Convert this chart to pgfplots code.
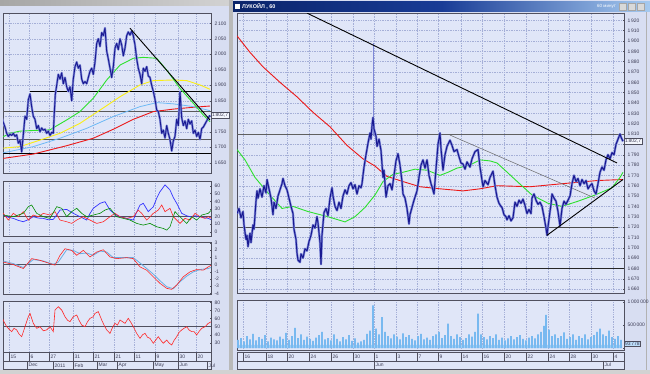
\documentclass[border=0pt]{standalone}
\usepackage{pgfplots}
\pgfplotsset{compat=1.18}
\usepackage{fontspec}
\setmainfont{Liberation Sans}
\definecolor{pagec}{RGB}{216,222,242}
\definecolor{bgc}{RGB}{224,230,248}
\definecolor{gridc}{RGB}{165,175,215}
\definecolor{framec}{RGB}{80,80,95}
\definecolor{labc}{RGB}{60,60,85}
\definecolor{pricec}{RGB}{25,25,145}
\definecolor{haloc}{RGB}{125,135,215}
\definecolor{mared}{RGB}{235,25,25}
\definecolor{magreen}{RGB}{45,225,45}
\definecolor{mayellow}{RGB}{250,238,20}
\definecolor{mablue}{RGB}{110,185,245}
\definecolor{volc}{RGB}{120,185,240}
\definecolor{navyt}{RGB}{10,36,106}
\definecolor{midt}{RGB}{25,60,150}
\definecolor{lightt}{RGB}{166,202,240}
\pgfplotsset{
 panel/.style={
  scale only axis, anchor=north west,
  clip mode=individual,
  axis background/.style={fill=bgc},
  axis line style={draw=framec, line width=0.5bp},
  every tick/.style={draw=framec, line width=0.4bp},
  major tick length=1.5bp,
  ytick pos=right, yticklabel pos=right,
  xmajorgrids, ymajorgrids,
  major grid style={dash pattern=on 0.5bp off 1.2bp, draw=gridc, line width=0.4bp},
  x tick style={draw=none},
  xticklabels={},
  tick label style={font=\fontsize{5}{6}\selectfont, text=labc},
  yticklabel style={/pgf/number format/.cd, fixed, precision=0, 1000 sep={\,}},
  /pgf/number format/assume math mode=true,
 },
 lx/.style={xmin=3, xmax=211, xtick={9,29,49,73,93,114,134,155,178,196}},
 rx/.style={xmin=237, xmax=624, xtick={243,266,287,309,331,353,374,396,417,438,461,482,504,526,548,569,591,613}},
}
\begin{document}
\begin{tikzpicture}
\useasboundingbox (0,0) rectangle (650bp,-374bp);
\fill[pagec] (0,0) rectangle (650bp,-374bp);
% window chrome
\shade[left color=gray!70, right color=gray!35] (0,0) rectangle (229bp,-5bp);
\fill[gray!55] (229bp,0) rectangle (233bp,-374bp);
\shade[left color=navyt, right color=lightt, middle color=midt] (233bp,-1.5bp) rectangle (650bp,-11.5bp);
\fill[white] (235bp,-3.5bp) rectangle (240bp,-9bp);
\node[anchor=west, text=white, font=\fontsize{5.5}{6}\selectfont\bfseries, inner sep=0] at (242bp,-6.5bp) {ЛУКОЙЛ , 60};
\node[anchor=east, text=white, font=\fontsize{4.5}{5}\selectfont, inner sep=0] at (616bp,-6.5bp) {60 минут};
\foreach \bx in {619,628,637} {\fill[gray!30] (\bx bp,-3bp) rectangle ++(7.5bp,-7bp); \draw[gray!70, line width=0.3bp] (\bx bp,-3bp) rectangle ++(7.5bp,-7bp);}
\draw[gray!60, line width=0.8bp] (646bp,-12bp) -- (646bp,-374bp);
\fill[gray!35] (0,-370bp) rectangle (650bp,-374bp);

% ===== LEFT PRICE =====
\begin{axis}[panel, lx, at={(3bp,-13bp)}, width=208bp, height=160bp,
  ymin=1616.8, ymax=2133.2, ytick={1650,1700,1750,1800,1850,1900,1950,2000,2050,2100},
  yticklabels={1\,650,1\,700,1\,750,,1\,850,1\,900,1\,950,2\,000,2\,050,2\,100}]
\addplot[black, line width=0.7bp] coordinates {(30,1879)(211,1879)};
\addplot[gray!70!black, line width=0.5bp] coordinates {(3,1817)(211,1817)};
\addplot[gray!70!black, line width=0.5bp] coordinates {(3,1726)(211,1726)};
\addplot[black, line width=0.8bp] coordinates {(3,1680)(211,1680)};
\addplot[mared, line width=0.9bp] coordinates {(3.3,1664)(33.3,1678)(66.7,1705)(93.3,1729)(113.3,1758)(133.3,1790)(153.3,1815)(173.3,1823)(193.3,1829)(210,1833)};
\addplot[mablue, line width=0.8bp] coordinates {(3.3,1682)(33.3,1702)(60,1729)(86.7,1761)(113.3,1799)(140,1831)(156.7,1844)(173.3,1840)(193.3,1831)(210,1818)};
\addplot[mayellow, line width=0.9bp] coordinates {(3.3,1697)(20,1702)(40,1723)(60,1745)(80,1777)(100,1820)(120,1863)(140,1901)(153.3,1915)(173.3,1917)(186.7,1915)(200,1901)(210,1887)};
\addplot[magreen, line width=0.9bp] coordinates {(3.3,1734)(10,1745)(20,1752)(33.3,1754)(50,1756)(55,1766)(66.7,1788)(80,1815)(93.3,1858)(106.7,1917)(120,1965)(133.3,1987)(143.3,1990)(156.7,1987)(166.7,1949)(180,1890)(193.3,1842)(203.3,1804)(210,1782)};
\addplot[haloc, line width=2.2bp, line join=round] coordinates {(1.7,1797)(3.3,1780)(5,1765)(6.7,1745)(8.3,1735)(10,1742)(11.7,1738)(13.3,1745)(15,1735)(16.7,1740)(18.3,1713)(20,1722)(21.7,1685)(23.3,1740)(25,1800)(26.7,1790)(28.3,1853)(30,1872)(31.7,1830)(33.3,1800)(35,1790)(36.7,1760)(38.3,1770)(40,1750)(41.7,1762)(43.3,1755)(45,1758)(46.7,1745)(48.3,1752)(50,1738)(51.7,1748)(53.3,1745)(54.3,1810)(55.3,1870)(56.7,1900)(58.3,1935)(60,1920)(61.7,1940)(63.3,1905)(65,1925)(66.7,1895)(68.3,1880)(70,1895)(71.7,1850)(73.3,1920)(75,1960)(76.7,1975)(78.3,1955)(80,1965)(81.7,1920)(83.3,1905)(85,1912)(86.7,1905)(88.3,1925)(90,1945)(91.7,1955)(93.3,1935)(95,1975)(96.7,2035)(98.3,2050)(100,2025)(101.7,2070)(103.3,2060)(105,2085)(106.7,2010)(108.3,1985)(110,1955)(111.7,1925)(113.3,1960)(115,2020)(116.7,2035)(118.3,2015)(120,2050)(121.7,2030)(123.3,1995)(125,2020)(126.7,2060)(128.3,2072)(130,2062)(131.7,2075)(133.3,2060)(135,2030)(136.7,1985)(138.3,1955)(140,1935)(141.7,1905)(143.3,1955)(145,1945)(146.7,1960)(148.3,1930)(150,1925)(151.7,1900)(153.3,1880)(155,1855)(156.7,1820)(158.3,1815)(160,1790)(161.7,1745)(163.3,1755)(165,1730)(166.7,1770)(168.3,1745)(170,1725)(171.7,1688)(173.3,1720)(175,1735)(176.7,1790)(178.3,1770)(180,1880)(181.7,1795)(183.3,1770)(185,1785)(186.7,1760)(188.3,1790)(190,1775)(191.7,1785)(193.3,1745)(195,1755)(196.7,1735)(198.3,1748)(200,1725)(201.7,1760)(203.3,1765)(205,1775)(206.7,1785)(208.3,1795)(210,1803)};
\addplot[pricec, line width=0.9bp, line join=round] coordinates {(1.7,1797)(3.3,1780)(5,1765)(6.7,1745)(8.3,1735)(10,1742)(11.7,1738)(13.3,1745)(15,1735)(16.7,1740)(18.3,1713)(20,1722)(21.7,1685)(23.3,1740)(25,1800)(26.7,1790)(28.3,1853)(30,1872)(31.7,1830)(33.3,1800)(35,1790)(36.7,1760)(38.3,1770)(40,1750)(41.7,1762)(43.3,1755)(45,1758)(46.7,1745)(48.3,1752)(50,1738)(51.7,1748)(53.3,1745)(54.3,1810)(55.3,1870)(56.7,1900)(58.3,1935)(60,1920)(61.7,1940)(63.3,1905)(65,1925)(66.7,1895)(68.3,1880)(70,1895)(71.7,1850)(73.3,1920)(75,1960)(76.7,1975)(78.3,1955)(80,1965)(81.7,1920)(83.3,1905)(85,1912)(86.7,1905)(88.3,1925)(90,1945)(91.7,1955)(93.3,1935)(95,1975)(96.7,2035)(98.3,2050)(100,2025)(101.7,2070)(103.3,2060)(105,2085)(106.7,2010)(108.3,1985)(110,1955)(111.7,1925)(113.3,1960)(115,2020)(116.7,2035)(118.3,2015)(120,2050)(121.7,2030)(123.3,1995)(125,2020)(126.7,2060)(128.3,2072)(130,2062)(131.7,2075)(133.3,2060)(135,2030)(136.7,1985)(138.3,1955)(140,1935)(141.7,1905)(143.3,1955)(145,1945)(146.7,1960)(148.3,1930)(150,1925)(151.7,1900)(153.3,1880)(155,1855)(156.7,1820)(158.3,1815)(160,1790)(161.7,1745)(163.3,1755)(165,1730)(166.7,1770)(168.3,1745)(170,1725)(171.7,1688)(173.3,1720)(175,1735)(176.7,1790)(178.3,1770)(180,1880)(181.7,1795)(183.3,1770)(185,1785)(186.7,1760)(188.3,1790)(190,1775)(191.7,1785)(193.3,1745)(195,1755)(196.7,1735)(198.3,1748)(200,1725)(201.7,1760)(203.3,1765)(205,1775)(206.7,1785)(208.3,1795)(210,1803)};
\addplot[black, line width=0.9bp] coordinates {(130,2084)(210,1788)};
\node[anchor=west, draw=framec, fill=bgc!40!white, line width=0.4bp, inner sep=0.8bp, font=\fontsize{5}{6}\selectfont, text=labc] at (axis cs:211,1803) {1\,802,7};
\end{axis}

% ===== LEFT DMI / ADX =====
\begin{axis}[panel, lx, at={(3bp,-181bp)}, width=208bp, height=55bp,
  ymin=-5.5, ymax=66.6, ytick={0,10,20,30,40,50,60}, ymajorgrids=false]
\addplot[framec, line width=0.6bp] coordinates {(3,20)(211,20)};
\addplot[blue!80!white, line width=0.7bp] coordinates {(3.3,22)(8.3,19)(13.3,17.6)(18.3,15)(23.3,13.2)(28.3,16)(33.3,19.8)(38.3,18)(43.3,17.6)(48.3,15.8)(53.3,16.3)(56.7,22)(60,28.5)(66.7,29.4)(73.3,24.2)(80,19.8)(86.7,15.4)(90,24)(93.3,30.8)(100,37.3)(105,39.5)(110,28.5)(115,23)(120,19.8)(126.7,17.6)(133.3,15.4)(136.7,26)(140,35.1)(143.3,37.3)(148.3,26.4)(153.3,32.9)(156.7,44)(160,52.6)(165,61.4)(170,54.8)(173.3,45)(176.7,37.3)(181.7,24.2)(186.7,21)(190,19.8)(195,21)(200,19.8)(204,18.5)(208.3,17.6)(211,16)};
\addplot[red!85!white, line width=0.6bp] coordinates {(3.3,24.2)(8.3,15.4)(13.3,24.2)(18.3,19.8)(23.3,26.4)(28.3,15.4)(33.3,22)(38.3,19.8)(43.3,24.2)(50,22)(55,26.4)(60,15.4)(66.7,13.2)(71.7,11)(76.7,15.4)(83.3,19.8)(90,15.4)(96.7,11)(103.3,13.2)(110,19.8)(115,24.2)(120,19.8)(126.7,17.6)(133.3,19.8)(138.3,28.5)(141.7,24.2)(146.7,15.4)(153.3,24.2)(158.3,28.5)(161.7,35.1)(165,26.4)(170,30.8)(173.3,19.8)(180,11)(185,17.6)(190,15.4)(195,24.2)(200,19.8)(205,17.6)(208.3,19.8)(211,18)};
\addplot[green!55!black, line width=0.6bp] coordinates {(3.3,22)(13.3,19.8)(23.3,24.2)(28.3,32.9)(31.7,35.1)(36.7,24.2)(43.3,19.8)(50,17.6)(56.7,32.9)(61.7,30.8)(66.7,19.8)(71.7,26.4)(76.7,30.8)(81.7,24.2)(86.7,19.8)(93.3,22)(100,24.2)(105,28.5)(110,30.8)(116.7,19.8)(123.3,17.6)(130,15.4)(136.7,11)(143.3,8.8)(150,11)(156.7,6.6)(163.3,4.4)(166.7,2.2)(170,6.6)(175,26.4)(180,19.8)(186.7,11)(191.7,19.8)(196.7,15.4)(201.7,22)(208.3,24.2)(211,28)};
\end{axis}

% ===== LEFT MACD =====
\begin{axis}[panel, lx, at={(3bp,-242.7bp)}, width=208bp, height=51.3bp,
  ymin=-4.1, ymax=3.05, ytick={-4,-3,-2,-1,0,1,2,3}, ymajorgrids=false]
\addplot[framec, line width=0.6bp] coordinates {(3,0)(211,0)};
\addplot[cyan!70!blue!60!white, line width=0.8bp] coordinates {(3.3,0.5)(13.3,0.14)(23.3,-0.41)(33.3,0.7)(43.3,0.5)(53.3,0.05)(58.3,0.36)(66.7,2.07)(73.3,1.98)(80,1.52)(86.7,1.61)(93.3,1.29)(100,1.89)(106.7,1.75)(113.3,0.97)(123.3,0.97)(133.3,0.97)(140,0.23)(146.7,-0.55)(153.3,-1.33)(160,-2.25)(166.7,-3.08)(173.3,-3.36)(180,-2.39)(186.7,-1.61)(193.3,-1.01)(200,-0.69)(208.3,-0.55)(211,-0.4)};
\addplot[red!85!white, line width=0.6bp] coordinates {(3.3,0.36)(13.3,0)(23.3,-0.55)(31.7,0.83)(40,0.6)(50,0.14)(55,-0.08)(60,1.29)(65,2.21)(71.7,1.98)(76.7,1.29)(83.3,1.98)(90,1.06)(96.7,1.75)(103.3,2.07)(110,1.06)(116.7,0.83)(126.7,0.97)(133.3,0.83)(140,-0.32)(146.7,-0.78)(153.3,-1.70)(160,-2.62)(166.7,-3.31)(171.7,-3.45)(176.7,-2.85)(183.3,-1.70)(190,-1.01)(196.7,-0.69)(203.3,-0.78)(208.3,-0.32)(211,-0.1)};
\end{axis}

% ===== LEFT RSI =====
\begin{axis}[panel, lx, at={(3bp,-301bp)}, width=208bp, height=51.7bp,
  ymin=18, ymax=81.6, ytick={30,40,50,60,70,80}, ymajorgrids=false]
\addplot[framec, line width=0.6bp] coordinates {(3,50)(211,50)};
\addplot[red!85!white, line width=0.6bp] coordinates {(1.7,62.3)(4,56)(6.7,50)(9,47)(11.7,43.9)(14,48)(16.7,46)(19,41)(21.7,37.7)(25,50)(28.3,62.3)(30,66.4)(33.3,54.1)(36.7,48)(40,50)(43.3,45)(46.7,46)(50,50)(53.3,43.9)(55,70.5)(58.3,74.6)(61.7,70.5)(65,62.3)(67.5,58)(70,56.2)(73.3,62.3)(76.7,64.4)(79,58)(81.7,52)(85,50)(87.5,56)(90,60.3)(93,62)(95,66.4)(98.3,68.5)(101.7,58.2)(104,52)(106.7,46)(110,41.8)(112.5,49)(115,54.1)(117.5,52)(120,58.2)(125,54.1)(128.3,60.3)(131,55)(133.3,50)(136.7,41.8)(140,35.7)(142.5,40)(145,41.8)(147.5,37)(150,35.7)(153.3,29.6)(156,34)(158.3,37.7)(161,33)(163.3,29.6)(166.7,33.6)(169,30)(171.7,27.5)(174,33)(176.7,37.7)(179,43)(181.7,46)(184,48)(186.7,50)(189,46)(191.7,43.9)(194,44)(196.7,39.8)(199,44)(201.7,48)(205,50)(208.3,54.1)(211,56)};
\end{axis}

% ===== LEFT DATE STRIP =====
\fill[bgc] (3bp,-352.7bp) rectangle (211bp,-369.3bp);
\draw[framec, line width=0.5bp] (3bp,-352.7bp) rectangle (211bp,-369.3bp);
\draw[framec, line width=0.4bp] (3bp,-361bp) -- (211bp,-361bp);
\foreach \s/\t in {9/15,29/6,49/27,73/31,93/21,114/21,134/11,155/9,178/30,196/20} {
  \draw[framec, line width=0.4bp] (\s bp,-352.7bp) -- (\s bp,-361bp);
  \node[anchor=west, inner sep=0, font=\fontsize{5}{6}\selectfont, text=labc] at ({(\s+1.5)*1bp},-357bp) {\t};
}
\foreach \s/\t in {27/Dec,53/2011,73/Feb,97/Mar,117/Apr,153/May,178/Jun,207/Jul} {
  \draw[framec, line width=0.4bp] (\s bp,-361bp) -- (\s bp,-369.3bp);
  \node[anchor=west, inner sep=0, font=\fontsize{5}{6}\selectfont, text=labc] at ({(\s+1.5)*1bp},-365.3bp) {\t};
}

% ===== RIGHT PRICE =====
\begin{axis}[panel, rx, at={(237bp,-13bp)}, width=387bp, height=280.3bp,
  ymin=1655.9, ymax=1927.1, ytick={1660,1670,1680,1690,1700,1710,1720,1730,1740,1750,1760,1770,1780,1790,1800,1810,1820,1830,1840,1850,1860,1870,1880,1890,1900,1910,1920},
  yticklabels={1\,660,1\,670,1\,680,1\,690,1\,700,1\,710,1\,720,1\,730,1\,740,1\,750,1\,760,1\,770,1\,780,1\,790,,1\,810,1\,820,1\,830,1\,840,1\,850,1\,860,1\,870,1\,880,1\,890,1\,900,1\,910,1\,920}]
\addplot[gray!75!black, line width=0.6bp] coordinates {(237,1810)(624,1810)};
\addplot[gray!60!black, line width=0.6bp] coordinates {(237,1720)(618,1720)};
\addplot[black!85, line width=1bp] coordinates {(237,1680)(624,1680)};
\addplot[mared, line width=0.9bp] coordinates {(237,1905)(250,1889)(263,1875)(280,1860)(297,1846)(313,1831)(330,1817)(347,1799)(363,1786)(375,1779)(387,1769)(403,1764)(420,1759)(440,1757)(463,1755)(480,1757)(497,1760)(530,1759)(563,1762)(597,1765)(623,1766)};
\addplot[magreen, line width=0.9bp] coordinates {(237,1795)(245,1785)(255,1768)(268,1753)(282,1738)(293,1740)(308,1735)(328,1730)(345,1725)(355,1730)(365,1739)(375,1751)(383,1764)(393,1771)(403,1773)(415,1776)(427,1775)(440,1770)(448,1773)(457,1777)(470,1780)(480,1785)(490,1784)(497,1782)(505,1775)(515,1766)(532,1751)(548,1743)(562,1740)(578,1745)(595,1751)(612,1758)(620,1768)(623,1773)};
\addplot[gray!80!black, line width=0.5bp] coordinates {(450,1809)(595,1748)};
\addplot[haloc, line width=0.6bp] coordinates {(373,1808)(373,1898)};
\addplot[haloc, line width=2.3bp, line join=round] coordinates {(237,1733)(239,1738)(241,1729)(243,1735)(244,1722)(246,1708)(247,1712)(248,1701)(250,1714)(251,1705)(253,1722)(254,1718)(256,1745)(257,1755)(258,1748)(260,1757)(262,1749)(264,1760)(266,1753)(267,1766)(269,1757)(271,1748)(273,1732)(274,1744)(276,1738)(278,1750)(280,1756)(282,1762)(283,1767)(285,1760)(287,1756)(289,1748)(291,1740)(293,1733)(294,1718)(296,1708)(297,1695)(298,1688)(300,1686)(301,1694)(303,1690)(305,1699)(307,1697)(309,1706)(311,1712)(313,1722)(315,1719)(317,1730)(318,1724)(320,1705)(321,1684)(322,1712)(324,1734)(326,1738)(328,1731)(330,1748)(332,1758)(333,1750)(335,1740)(337,1736)(339,1744)(341,1738)(343,1750)(345,1756)(347,1752)(349,1760)(351,1763)(353,1757)(355,1761)(357,1752)(359,1760)(361,1758)(362,1762)(364,1778)(366,1790)(368,1801)(370,1811)(371,1805)(372,1818)(373,1826)(374,1815)(376,1808)(377,1798)(379,1805)(381,1794)(383,1768)(384,1775)(386,1749)(388,1760)(390,1762)(392,1756)(394,1770)(396,1784)(398,1791)(400,1780)(402,1764)(403,1752)(405,1748)(407,1738)(409,1723)(410,1732)(412,1739)(414,1746)(417,1755)(419,1768)(421,1780)(423,1785)(425,1777)(427,1785)(429,1770)(431,1762)(432,1759)(434,1752)(436,1776)(438,1800)(440,1811)(441,1796)(443,1775)(445,1790)(447,1798)(450,1804)(452,1799)(454,1793)(457,1795)(459,1788)(461,1782)(463,1781)(465,1776)(467,1783)(470,1778)(472,1786)(475,1793)(478,1795)(480,1778)(483,1759)(485,1765)(488,1761)(490,1768)(493,1774)(495,1760)(497,1749)(499,1743)(501,1740)(502,1739)(504,1732)(506,1730)(507,1727)(509,1731)(511,1726)(513,1729)(515,1744)(517,1740)(519,1746)(521,1743)(523,1747)(525,1741)(527,1733)(529,1737)(531,1733)(532,1748)(534,1752)(536,1746)(538,1742)(540,1744)(542,1740)(544,1730)(546,1719)(547,1712)(549,1728)(551,1742)(552,1752)(554,1748)(556,1745)(558,1735)(560,1721)(562,1738)(564,1745)(566,1742)(568,1746)(570,1750)(572,1762)(574,1770)(576,1764)(578,1767)(580,1760)(582,1766)(584,1762)(586,1765)(588,1757)(590,1760)(592,1762)(594,1755)(596,1752)(598,1762)(600,1773)(602,1778)(604,1775)(606,1785)(608,1790)(610,1786)(612,1792)(614,1790)(616,1800)(618,1805)(620,1810)(621,1807)(623,1803)};
\addplot[pricec, line width=1bp, line join=round] coordinates {(237,1733)(239,1738)(241,1729)(243,1735)(244,1722)(246,1708)(247,1712)(248,1701)(250,1714)(251,1705)(253,1722)(254,1718)(256,1745)(257,1755)(258,1748)(260,1757)(262,1749)(264,1760)(266,1753)(267,1766)(269,1757)(271,1748)(273,1732)(274,1744)(276,1738)(278,1750)(280,1756)(282,1762)(283,1767)(285,1760)(287,1756)(289,1748)(291,1740)(293,1733)(294,1718)(296,1708)(297,1695)(298,1688)(300,1686)(301,1694)(303,1690)(305,1699)(307,1697)(309,1706)(311,1712)(313,1722)(315,1719)(317,1730)(318,1724)(320,1705)(321,1684)(322,1712)(324,1734)(326,1738)(328,1731)(330,1748)(332,1758)(333,1750)(335,1740)(337,1736)(339,1744)(341,1738)(343,1750)(345,1756)(347,1752)(349,1760)(351,1763)(353,1757)(355,1761)(357,1752)(359,1760)(361,1758)(362,1762)(364,1778)(366,1790)(368,1801)(370,1811)(371,1805)(372,1818)(373,1826)(374,1815)(376,1808)(377,1798)(379,1805)(381,1794)(383,1768)(384,1775)(386,1749)(388,1760)(390,1762)(392,1756)(394,1770)(396,1784)(398,1791)(400,1780)(402,1764)(403,1752)(405,1748)(407,1738)(409,1723)(410,1732)(412,1739)(414,1746)(417,1755)(419,1768)(421,1780)(423,1785)(425,1777)(427,1785)(429,1770)(431,1762)(432,1759)(434,1752)(436,1776)(438,1800)(440,1811)(441,1796)(443,1775)(445,1790)(447,1798)(450,1804)(452,1799)(454,1793)(457,1795)(459,1788)(461,1782)(463,1781)(465,1776)(467,1783)(470,1778)(472,1786)(475,1793)(478,1795)(480,1778)(483,1759)(485,1765)(488,1761)(490,1768)(493,1774)(495,1760)(497,1749)(499,1743)(501,1740)(502,1739)(504,1732)(506,1730)(507,1727)(509,1731)(511,1726)(513,1729)(515,1744)(517,1740)(519,1746)(521,1743)(523,1747)(525,1741)(527,1733)(529,1737)(531,1733)(532,1748)(534,1752)(536,1746)(538,1742)(540,1744)(542,1740)(544,1730)(546,1719)(547,1712)(549,1728)(551,1742)(552,1752)(554,1748)(556,1745)(558,1735)(560,1721)(562,1738)(564,1745)(566,1742)(568,1746)(570,1750)(572,1762)(574,1770)(576,1764)(578,1767)(580,1760)(582,1766)(584,1762)(586,1765)(588,1757)(590,1760)(592,1762)(594,1755)(596,1752)(598,1762)(600,1773)(602,1778)(604,1775)(606,1785)(608,1790)(610,1786)(612,1792)(614,1790)(616,1800)(618,1805)(620,1810)(621,1807)(623,1803)};
\addplot[black, line width=0.9bp] coordinates {(307,1927)(617,1782)};
\addplot[black, line width=0.9bp] coordinates {(547,1712)(623,1766)};
\node[anchor=west, draw=framec, fill=bgc!40!white, line width=0.4bp, inner sep=0.8bp, font=\fontsize{5}{6}\selectfont, text=labc] at (axis cs:624,1803) {1\,802,7};
\end{axis}

% ===== VOLUME =====
\begin{axis}[panel, rx, at={(237bp,-300bp)}, width=387bp, height=50bp,
  ymin=-38, ymax=1038, ytick={0,500,1000}, yticklabels={,500\,000,1\,000\,000}, ymajorgrids=false]
\addplot[fill=volc!70!white, draw=none] coordinates {(238,0)(238,70)(622,70)(622,0)} \closedcycle;
\addplot[ybar, bar width=1.6, fill=volc, draw=none] coordinates {(238,180)(241,220)(244,150)(247,260)(250,190)(253,310)(256,170)(259,240)(262,200)(265,280)(268,150)(271,230)(274,190)(277,170)(280,250)(283,200)(286,330)(289,180)(292,260)(295,440)(298,220)(301,300)(304,180)(307,250)(310,200)(313,160)(316,230)(319,280)(322,350)(325,190)(328,220)(331,170)(334,300)(337,200)(340,150)(343,240)(346,190)(349,280)(352,160)(355,210)(358,120)(361,150)(364,180)(367,310)(370,380)(373,925)(376,420)(379,300)(382,670)(385,350)(388,260)(391,210)(394,300)(397,250)(400,190)(403,320)(406,240)(409,280)(412,200)(415,170)(418,260)(421,310)(424,190)(427,230)(430,180)(433,260)(436,300)(439,350)(442,220)(445,280)(448,530)(451,260)(454,200)(457,300)(460,240)(463,180)(466,220)(469,300)(472,250)(475,350)(478,745)(481,300)(484,240)(487,190)(490,260)(493,220)(496,300)(499,180)(502,230)(505,170)(508,210)(511,260)(514,190)(517,240)(520,280)(523,200)(526,170)(529,230)(532,260)(535,210)(538,300)(541,350)(544,480)(546,720)(549,400)(552,260)(555,300)(558,220)(561,260)(564,340)(567,200)(570,240)(573,300)(576,180)(579,260)(582,220)(585,300)(588,190)(591,240)(594,280)(597,350)(600,420)(603,300)(606,260)(609,380)(612,240)(615,200)(618,260)(621,180)};
\node[anchor=west, draw=framec, fill=volc!50!white, line width=0.4bp, inner sep=0.8bp, font=\fontsize{5}{6}\selectfont, text=labc] at (axis cs:624,90) {93\,778};
\end{axis}

% ===== RIGHT DATE STRIP =====
\fill[bgc] (237bp,-352.5bp) rectangle (624bp,-369.3bp);
\draw[framec, line width=0.5bp] (237bp,-352.5bp) rectangle (624bp,-369.3bp);
\draw[framec, line width=0.4bp] (237bp,-360.7bp) -- (624bp,-360.7bp);
\foreach \s/\t in {243/16,266/18,287/20,309/24,331/26,353/30,374/1,396/3,417/7,438/9,461/14,482/16,504/20,526/22,548/24,569/28,591/30,613/4} {
  \draw[framec, line width=0.4bp] (\s bp,-352.5bp) -- (\s bp,-360.7bp);
  \node[anchor=west, inner sep=0, font=\fontsize{5}{6}\selectfont, text=labc] at ({(\s+1.5)*1bp},-356.6bp) {\t};
}
\foreach \s/\t in {374/Jun,603/Jul} {
  \draw[framec, line width=0.4bp] (\s bp,-360.7bp) -- (\s bp,-369.3bp);
  \node[anchor=west, inner sep=0, font=\fontsize{5}{6}\selectfont, text=labc] at ({(\s+1.5)*1bp},-365bp) {\t};
}
\end{tikzpicture}
\end{document}
